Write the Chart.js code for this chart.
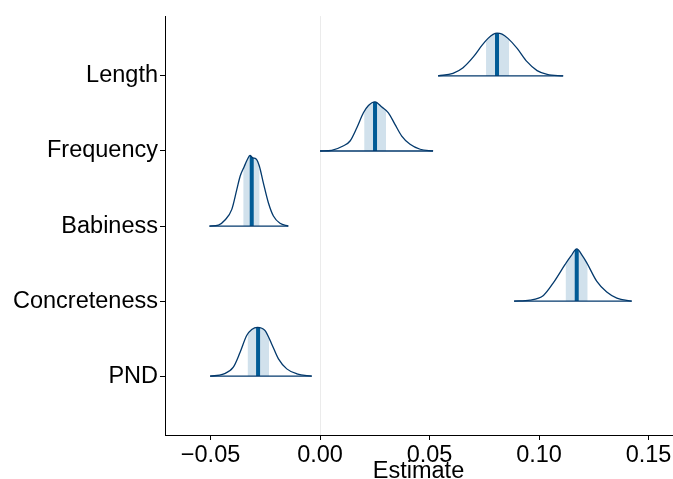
<!DOCTYPE html>
<html>
<head>
<meta charset="utf-8">
<script src="https://cdn.jsdelivr.net/npm/chart.js@4"></script>
<style>
html,body{margin:0;padding:0;background:#fff;}
canvas{display:block;}
</style>
</head>
<body>
<canvas id="c" width="673" height="479" style="width:673px;height:479px"></canvas>
<script>
// posterior areas, one row per predictor (top to bottom)
const categories = ['Length', 'Frequency', 'Babiness', 'Concreteness', 'PND'];
const rowPos = [5, 4, 3, 2, 1];
const xTicks = [-0.05, 0, 0.05, 0.10, 0.15];

const medians  = [0.0808, 0.0251, -0.0312, 0.1172, -0.0283];
const bandLow  = [0.0758, 0.0202, -0.0350, 0.1122, -0.0330];
const bandHigh = [0.0863, 0.0301, -0.0277, 0.1221, -0.0233];

// density curves (height in row units)
const lengthX = [0.0539, 0.0607, 0.0653, 0.0699, 0.0740, 0.0767, 0.0790, 0.0808, 0.0831, 0.0858, 0.0900, 0.0945, 0.0991, 0.1037, 0.1110];
const lengthH = [0, 0.035, 0.11, 0.25, 0.41, 0.50, 0.553, 0.571, 0.558, 0.50, 0.367, 0.19, 0.07, 0.021, 0];
const freqX = [0.0000, 0.0053, 0.0105, 0.0137, 0.0168, 0.0198, 0.0221, 0.0251, 0.0282, 0.0312, 0.0342, 0.0373, 0.0411, 0.0457, 0.0516];
const freqH = [0, 0.009, 0.066, 0.133, 0.31, 0.509, 0.607, 0.655, 0.585, 0.509, 0.355, 0.199, 0.089, 0.023, 0];
const babyX = [-0.0505, -0.0464, -0.0434, -0.0403, -0.0380, -0.0365, -0.0347, -0.0332, -0.0320, -0.0307, -0.0292, -0.0277, -0.0259, -0.0236, -0.0213, -0.0183, -0.0145];
const babyH = [0, 0.013, 0.08, 0.222, 0.488, 0.664, 0.788, 0.886, 0.94, 0.908, 0.894, 0.797, 0.575, 0.31, 0.133, 0.036, 0];
const concX = [0.0886, 0.0959, 0.1020, 0.1065, 0.1119, 0.1145, 0.1172, 0.1199, 0.1218, 0.1263, 0.1309, 0.1355, 0.1423];
const concH = [0, 0.013, 0.076, 0.243, 0.488, 0.598, 0.695, 0.598, 0.509, 0.266, 0.12, 0.04, 0];
const pndX = [-0.0502, -0.0442, -0.0396, -0.0365, -0.0335, -0.0312, -0.0286, -0.0251, -0.0221, -0.0190, -0.0152, -0.0106, -0.0038];
const pndH = [0, 0.027, 0.12, 0.319, 0.541, 0.621, 0.651, 0.607, 0.429, 0.23, 0.097, 0.031, 0];

const densX = [lengthX, freqX, babyX, concX, pndX];
const densH = [lengthH, freqH, babyH, concH, pndH];

const OUTLINE = '#03396c';
const BAND = '#d1e1ec';
const MID = '#005b96';
const FONT = '"Liberation Sans", Arial, Helvetica, sans-serif';

const datasets = [];
categories.forEach((c, i) => {
  datasets.push({
    label: c,
    data: densX[i].map((x, j) => ({ x: x, y: rowPos[i] + densH[i][j] })),
    showLine: true, borderColor: OUTLINE, borderWidth: 1.3,
    pointRadius: 0, cubicInterpolationMode: 'monotone', fill: false
  });
});
categories.forEach((c, i) => {
  const n = densX[i].length;
  datasets.push({
    label: c + ' base',
    data: [{ x: densX[i][0], y: rowPos[i] }, { x: densX[i][n - 1], y: rowPos[i] }],
    showLine: true, borderColor: OUTLINE, borderWidth: 1.3, pointRadius: 0, tension: 0
  });
});

// shade the central interval and the median inside each curve
const areaPlugin = {
  id: 'areas',
  beforeDatasetsDraw(chart) {
    const ctx = chart.ctx, x = chart.scales.x, y = chart.scales.y, top = chart.chartArea.top;
    categories.forEach((c, i) => {
      const meta = chart.getDatasetMeta(i);
      const line = meta.dataset;
      const base = y.getPixelForValue(rowPos[i]);
      ctx.save();
      ctx.beginPath();
      if (line.updateControlPoints) line.updateControlPoints(chart.chartArea, 'x');
      if (typeof line.path === 'function') {
        line.path(ctx);
      } else {
        meta.data.forEach((p, k) => k ? ctx.lineTo(p.x, p.y) : ctx.moveTo(p.x, p.y));
      }
      ctx.closePath();
      ctx.clip();
      const x1 = x.getPixelForValue(bandLow[i]), x2 = x.getPixelForValue(bandHigh[i]);
      ctx.fillStyle = BAND;
      ctx.fillRect(x1, top, x2 - x1, base - top);
      const m = x.getPixelForValue(medians[i]);
      ctx.fillStyle = MID;
      ctx.fillRect(m - 2, top, 4, base - top);
      ctx.restore();
    });
  }
};

new Chart(document.getElementById('c'), {
  type: 'scatter',
  data: { datasets },
  options: {
    responsive: false,
    animation: false,
    layout: { padding: { top: 15, right: 1, left: 0, bottom: 0 } },
    plugins: { legend: { display: false }, tooltip: { enabled: false } },
    scales: {
      x: {
        type: 'linear', min: -0.0708, max: 0.1607,
        afterBuildTicks: s => { s.ticks = xTicks.map(v => ({ value: v })); },
        afterFit: s => { s.height = 44; },
        ticks: {
          callback: v => (v < 0 ? '\u2212' : '') + Math.abs(v).toFixed(2),
          font: { size: 23.5, family: FONT }, color: '#000', padding: 1,
          maxRotation: 0, autoSkip: false
        },
        grid: {
          color: c => (c.tick && c.tick.value === 0) ? '#ebebeb' : 'rgba(0,0,0,0)',
          tickColor: '#000', tickLength: 5, lineWidth: 1
        },
        border: { color: '#000', width: 1 },
        title: { display: true, text: 'Estimate', font: { size: 23.5, family: FONT, lineHeight: 1 }, color: '#000', padding: { top: 0, bottom: -4 } }
      },
      y: {
        type: 'linear', min: 0.216, max: 5.797,
        afterBuildTicks: s => { s.ticks = rowPos.map(v => ({ value: v })); },
        afterFit: s => { s.width = 165; },
        ticks: {
          callback: v => categories[rowPos.indexOf(v)],
          font: { size: 23.5, family: FONT }, color: '#000', padding: 2
        },
        grid: { drawOnChartArea: false, drawTicks: true, tickLength: 5, tickColor: '#000' },
        border: { display: true, color: '#000', width: 1 }
      }
    }
  },
  plugins: [areaPlugin]
});
</script>
</body>
</html>
